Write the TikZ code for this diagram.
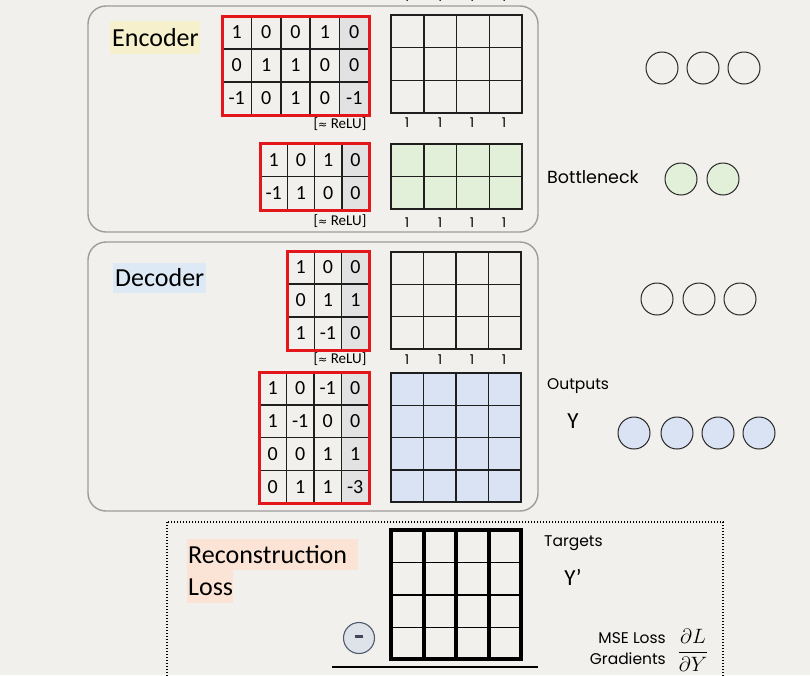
\documentclass[tikz,border=0pt]{standalone}
\usepackage{fontspec}
\setmainfont{Carlito}
\newfontfamily\hand{Poppins}
\newfontfamily\symf{DejaVu Sans}
\definecolor{paper}{HTML}{F2F0ED}
\definecolor{panelc}{HTML}{9C9C9C}
\definecolor{redc}{HTML}{E3161C}
\definecolor{shadec}{HTML}{E2E2E2}
\definecolor{greenc}{HTML}{E2EFD9}
\definecolor{bluec}{HTML}{DAE3F3}
\definecolor{yellowhl}{HTML}{F6F1CC}
\definecolor{bluehl}{HTML}{DDE9F5}
\definecolor{peach}{HTML}{FBE4D5}
\definecolor{minusfill}{HTML}{DEE2E9}
\definecolor{minusdraw}{HTML}{4F5A6E}
\tikzset{
  gridline/.style={draw=black!88, line width=1.5pt},
  redbox/.style={draw=redc, line width=3pt},
  num/.style={font=\fontsize{20}{22}\selectfont, inner sep=0pt},
  relu/.style={font=\fontsize{15}{17}\selectfont, inner sep=0pt},
  onelbl/.style={font=\hand\fontsize{13.5}{15}\selectfont, inner sep=0pt},
  neuron/.style={circle, draw=black!85, line width=1pt, minimum size=32pt, inner sep=0pt},
  lbl/.style={font=\hand\fontsize{15.5}{17}\selectfont, inner sep=0pt},
  title/.style={font=\fontsize{26}{30}\selectfont, inner sep=0pt},
  bigy/.style={font=\fontsize{23}{26}\selectfont, inner sep=0pt},
  panel/.style={draw=panelc, line width=1.4pt, rounded corners=18pt},
}
% grid: x0, y0, cols, rows, cell width, row height, style
\newcommand\mygrid[7]{%
  \pgfmathtruncatemacro\mygc{#3-1}\pgfmathtruncatemacro\mygr{#4-1}%
  \foreach \gi in {1,...,\mygc} {\draw[#7] ({#1+\gi*#5},#2) -- ++(0,{#4*#6});}
  \foreach \gj in {1,...,\mygr} {\draw[#7] (#1,{#2+\gj*#6}) -- ++({#3*#5},0);}
  \draw[#7] (#1,#2) rectangle ++({#3*#5},{#4*#6});}
% values: x0, y0, cell width, row height, rows, name prefix
\newcommand\myvals[6]{%
  \foreach \myrow [count=\ri from 0] in {#5} {%
    \foreach \myv [count=\ci from 0] in \myrow {%
      \node[num] (#6-\ri-\ci) at ({#1+(\ci+0.5)*#3},{#2+(\ri+0.5)*#4}) {\myv};}}}
% column labels "1" under a 4-col grid: y, name prefix
\newcommand\myones[2]{%
  \foreach \k [count=\ki] in {407,440,472,504} {\node[onelbl] (#2-\ki) at (\k,#1) {1};}}
\begin{document}
\begin{tikzpicture}[x=1pt,y=-1pt]
\useasboundingbox (0,0) rectangle (810,675);
\fill[paper] (0,0) rectangle (810,675);

% cut-off labels at top
\myones{-3}{topones}

% ===== Encoder =====
\draw[panel] (88,6) rectangle (538,232);
\fill[yellowhl] (110,21) rectangle (200,54);
\node[title, anchor=west] (enc) at (112,38) {Encoder};

% encoder weight matrix 1
\fill[shadec] (339.6,16) rectangle (369,115);
\mygrid{222}{16}{5}{3}{29.4}{33}{gridline}
\draw[redbox] (222,16) rectangle (369,115);
\myvals{222}{16}{29.4}{33}{{1,0,0,1,0},{0,1,1,0,0},{-1,0,1,0,-1}}{ew1}
\node[relu] (relu1) at (340,124) {[{\symf\fontsize{11}{12}\selectfont ≈} ReLU]};

% encoder hidden grid
\mygrid{391}{15}{4}{3}{32.75}{32.67}{gridline}
\myones{123}{eh1}

% encoder weight matrix 2
\fill[shadec] (341.75,143) rectangle (369,210);
\mygrid{260}{143}{4}{2}{27.25}{33.5}{gridline}
\draw[redbox] (260,143) rectangle (369,210);
\myvals{260}{143}{27.25}{33.5}{{1,0,1,0},{-1,1,0,0}}{ew2}
\node[relu] (relu2) at (340,221) {[{\symf\fontsize{11}{12}\selectfont ≈} ReLU]};

% bottleneck grid
\fill[greenc] (391,144) rectangle (522,209);
\mygrid{391}{144}{4}{2}{32.75}{32.5}{gridline}
\myones{223}{bh}

% encoder neurons
\node[neuron] (n1a) at (662,68) {};
\node[neuron] (n1b) at (703,68) {};
\node[neuron] (n1c) at (744,68) {};
\node[lbl, anchor=west, font=\hand\fontsize{17.5}{19}\selectfont] (bn) at (547,177) {Bottleneck};
\node[neuron, fill=greenc] (b1) at (681,179) {};
\node[neuron, fill=greenc] (b2) at (723,179) {};

% ===== Decoder =====
\draw[panel] (88,242) rectangle (538,511);
\fill[bluehl] (113,263) rectangle (206,293);
\node[title, anchor=west] (dec) at (115,278) {Decoder};

% decoder weight matrix 1
\fill[shadec] (341.67,251) rectangle (369,350);
\mygrid{287}{251}{3}{3}{27.33}{33}{gridline}
\draw[redbox] (287,251) rectangle (369,350);
\myvals{287}{251}{27.33}{33}{{1,0,0},{0,1,1},{1,-1,0}}{dw1}
\node[relu] (relu3) at (340,359) {[{\symf\fontsize{11}{12}\selectfont ≈} ReLU]};

% decoder hidden grid
\mygrid{391}{252}{4}{3}{32.5}{32.33}{gridline}
\myones{360}{dh}

% decoder weight matrix 2
\fill[shadec] (341.5,372) rectangle (369,503);
\mygrid{259}{372}{4}{4}{27.5}{32.75}{gridline}
\draw[redbox] (259,372) rectangle (369,503);
\myvals{259}{372}{27.5}{32.75}{{1,0,-1,0},{1,-1,0,0},{0,0,1,1},{0,1,1,-3}}{dw2}

% output grid
\fill[bluec] (391,373) rectangle (521,502);
\mygrid{391}{373}{4}{4}{32.5}{32.25}{gridline}

% decoder neurons
\node[neuron] (d1a) at (657,299) {};
\node[neuron] (d1b) at (699,299) {};
\node[neuron] (d1c) at (740,299) {};
\node[lbl, anchor=west] (outs) at (547,386) {Outputs};
\node[bigy] (ylab) at (573,421) {Y};
\node[neuron, fill=bluec] (o1) at (634,433) {};
\node[neuron, fill=bluec] (o2) at (677,433) {};
\node[neuron, fill=bluec] (o3) at (718,433) {};
\node[neuron, fill=bluec] (o4) at (759,433) {};

% ===== Reconstruction loss =====
\draw[line width=1.6pt, dash pattern=on 1.4pt off 1.6pt] (167,522) rectangle (723,720);
\fill[peach] (187,539) rectangle (358,570);
\fill[peach] (187,570) rectangle (233,603);
\node[title, anchor=west] (rl1) at (188,555) {Reconstruction};
\node[title, anchor=west] (rl2) at (188,587) {Loss};

% target grid
\foreach \yy in {562.3,595,627.7} {\draw[line width=1.3pt] (391,\yy) -- (521,\yy);}
\foreach \xx in {423.5,456,488.5} {\draw[line width=4pt] (\xx,530) -- (\xx,659);}
\draw[line width=4.2pt] (391,530) rectangle (521,659);

\node[circle, draw=minusdraw, fill=minusfill, line width=1.1pt, minimum size=31pt, inner sep=0pt]
      (minus) at (359,638) {\textcolor{minusdraw!80!black}{\rule[3pt]{8.5pt}{2.6pt}}};
\coordinate (sumL) at (332,667);
\coordinate (sumR) at (538,667);
\draw[line width=2pt] (sumL) -- (sumR);

\node[lbl, anchor=west] (tg) at (544,543) {Targets};
\node[bigy] (yp) at (573,577) {Y’};
\node[lbl, anchor=east] (mse) at (666,638) {MSE Loss};
\node[lbl, anchor=east] (grad) at (666,659) {Gradients};
\node[inner sep=0pt, font=\fontsize{22}{26}\selectfont] (frac) at (693,650) {$\displaystyle\frac{\partial L}{\partial Y}$};
\end{tikzpicture}
\end{document}
